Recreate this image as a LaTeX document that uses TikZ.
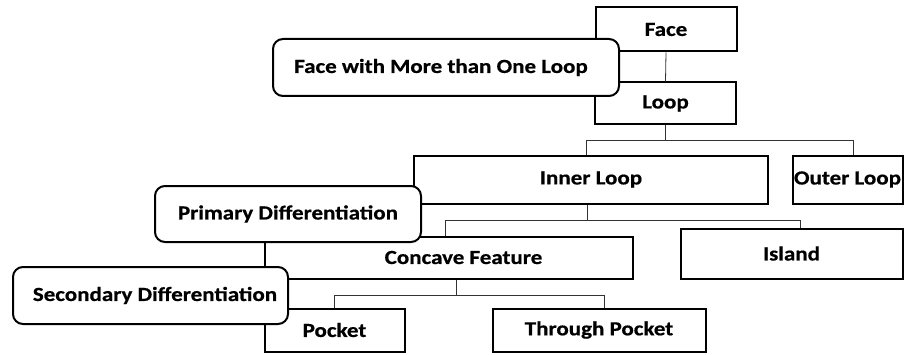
\documentclass[tikz,border=0pt]{standalone}
\usepackage{fontspec}
\newfontfamily\lblfont[FakeStretch=1.15, BoldFeatures={FakeBold=0.6}]{Carlito}
\begin{document}
\begin{tikzpicture}[x=1pt,y=1pt,
  every node/.style={font=\lblfont\bfseries\fontsize{20}{22}\selectfont, inner sep=0pt},
  classbox/.style={draw=black, line width=2pt, fill=white},
  notebox/.style={draw=black, line width=2pt, fill=white, rounded corners=10pt},
  link/.style={draw=black!80, line width=0.8pt}]
\useasboundingbox (0,0) rectangle (910,354);

% class hierarchy boxes
\node[classbox, minimum width=141pt, minimum height=44pt] (face) at (666,324.5) {Face};
\node[classbox, minimum width=141pt, minimum height=42pt] (loop) at (665.5,250.5) {Loop};
\node[classbox, minimum width=354pt, minimum height=48pt] (inner) at (591,174.5) {Inner Loop};
\node[classbox, minimum width=110pt, minimum height=48pt] (outer) at (847.5,174.5) {Outer Loop};
\node[classbox, minimum width=368pt, minimum height=42pt] (concave) at (449,96.5) {\hspace*{29pt}Concave Feature};
\node[classbox, minimum width=222pt, minimum height=50pt] (island) at (791.5,100.5) {Island};
\node[classbox, minimum width=140pt, minimum height=43pt] (pocket) at (334.5,24) {Pocket};
\node[classbox, minimum width=213pt, minimum height=43pt] (through) at (599,24) {Through Pocket};

% tree connectors
\draw[link] (face.south) -- (loop.north);
\coordinate (busA) at ([yshift=-15pt]loop.south);
\draw[link] (loop.south) -- (busA);
\draw[link] ([xshift=-5pt]inner.north) |- (busA) -| ([xshift=6pt]outer.north);
\coordinate (busB) at ([xshift=-4pt,yshift=-16pt]inner.south);
\draw[link] ([xshift=-4pt]inner.south) -- (busB);
\draw[link] (concave.north -| 445,0) |- (busB) -| (island.north -| 800,0);
\coordinate (busC) at ([xshift=7pt,yshift=-16pt]concave.south);
\draw[link] ([xshift=7pt]concave.south) -- (busC);
\draw[link] (pocket.north) |- (busC) -| ([xshift=5pt]through.north);

% differentiation labels
\node[notebox, minimum width=346pt, minimum height=57pt] (multi) at (446,286.5) {\hspace*{-10pt}Face with More than One Loop};
\node[notebox, minimum width=266pt, minimum height=56pt] (primary) at (288,140) {Primary Differentiation};
\node[notebox, minimum width=275pt, minimum height=57pt] (secondary) at (150.5,58.5) {\hspace*{9pt}Secondary Differentiation};
\end{tikzpicture}
\end{document}
